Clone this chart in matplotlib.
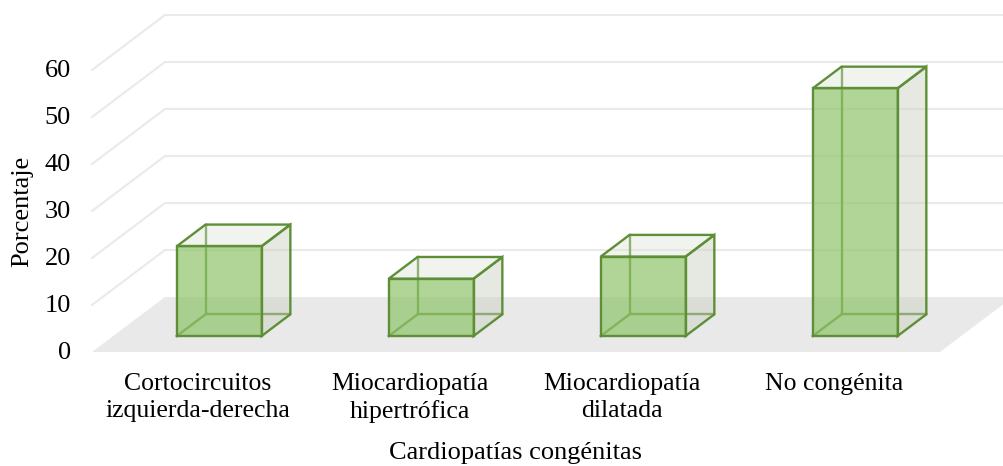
import matplotlib
matplotlib.use("Agg")
import matplotlib.pyplot as plt
from matplotlib.patches import Polygon

plt.rcParams['font.family'] = ['Liberation Serif', 'DejaVu Serif']

# datos
categorias = ['Cortocircuitos\nizquierda-derecha', 'Miocardiopatía\nhipertrófica',
              'Miocardiopatía\ndilatada', 'No congénita']
porcentajes = [19.1, 12.2, 16.9, 52.7]
ticks_y = [0, 10, 20, 30, 40, 50, 60]

# proyeccion oblicua (profundidad en unidades de datos)
dx, dy = 0.344, 11.7
z0, z1 = 0.29, 0.685
ancho = 0.4

col_frente = '#8FC46A'
col_borde = '#5E8F37'
col_lado = '#C9CFC0'
col_tapa = '#DDE3D6'
col_piso = '#E9E9E9'
col_grid = '#EAEAEA'
lw_borde = 1.7

fig = plt.figure(figsize=(10.04, 4.66), dpi=100)
ax = fig.add_axes([0, 0, 1, 1])
ax.set_xlim(-0.934, 3.802)
ax.set_ylim(-24.26, 74.9)
ax.axis('off')

def P(x, y, z):
    return (x + z * dx, y + z * dy)

# piso
ax.add_patch(Polygon([P(-0.5, 0, 0), P(3.5, 0, 0), P(3.5, 0, 1), P(-0.5, 0, 1)],
                     closed=True, facecolor=col_piso, edgecolor='none', zorder=1))

# lineas de cuadricula (pared izquierda y fondo)
for v in ticks_y[1:]:
    a = P(-0.5, v, 0)
    b = P(-0.5, v, 1)
    c = P(3.5, v, 1)
    ax.plot([a[0], b[0], c[0]], [a[1], b[1], c[1]], color=col_grid, lw=1.5,
            solid_joinstyle='miter', zorder=2)

# barras
for i, v in enumerate(porcentajes):
    x0, x1 = i - ancho / 2, i + ancho / 2
    # aristas ocultas
    for p, q in [((x0, 0, z1), (x0, v, z1)), ((x0, 0, z1), (x1, 0, z1)),
                 ((x0, 0, z0), (x0, 0, z1))]:
        a, b = P(*p), P(*q)
        ax.plot([a[0], b[0]], [a[1], b[1]], color=col_borde, lw=lw_borde, zorder=3)
    lado = [P(x1, 0, z0), P(x1, 0, z1), P(x1, v, z1), P(x1, v, z0)]
    tapa = [P(x0, v, z0), P(x1, v, z0), P(x1, v, z1), P(x0, v, z1)]
    frente = [P(x0, 0, z0), P(x1, 0, z0), P(x1, v, z0), P(x0, v, z0)]
    ax.add_patch(Polygon(lado, closed=True, facecolor=col_lado, alpha=0.45,
                         edgecolor='none', zorder=4))
    ax.add_patch(Polygon(lado, closed=True, facecolor='none', edgecolor=col_borde,
                         lw=lw_borde, joinstyle='miter', zorder=4))
    ax.add_patch(Polygon(tapa, closed=True, facecolor=col_tapa, alpha=0.4,
                         edgecolor='none', zorder=4))
    ax.add_patch(Polygon(tapa, closed=True, facecolor='none', edgecolor=col_borde,
                         lw=lw_borde, joinstyle='miter', zorder=4))
    ax.add_patch(Polygon(frente, closed=True, facecolor=col_frente, alpha=0.7,
                         edgecolor='none', zorder=5))
    ax.add_patch(Polygon(frente, closed=True, facecolor='none', edgecolor=col_borde,
                         lw=lw_borde, joinstyle='miter', zorder=6))

# etiquetas eje y
for t in ticks_y:
    ax.text(-0.6, t - 0.2, str(t), ha='right', va='center', fontsize=19, color='#000000')

# etiquetas categorias
for i, c in enumerate(categorias):
    ax.text(i, -4.4, c, ha='center', va='top', fontsize=18.5, linespacing=1.32)

ax.text(1.5, -21.4, 'Cardiopatías congénitas', ha='center', va='center', fontsize=19)
ax.text(-0.83, 30.0, 'Porcentaje', ha='center', va='center', rotation=90, fontsize=19)

fig.savefig('out.png', dpi=100)
